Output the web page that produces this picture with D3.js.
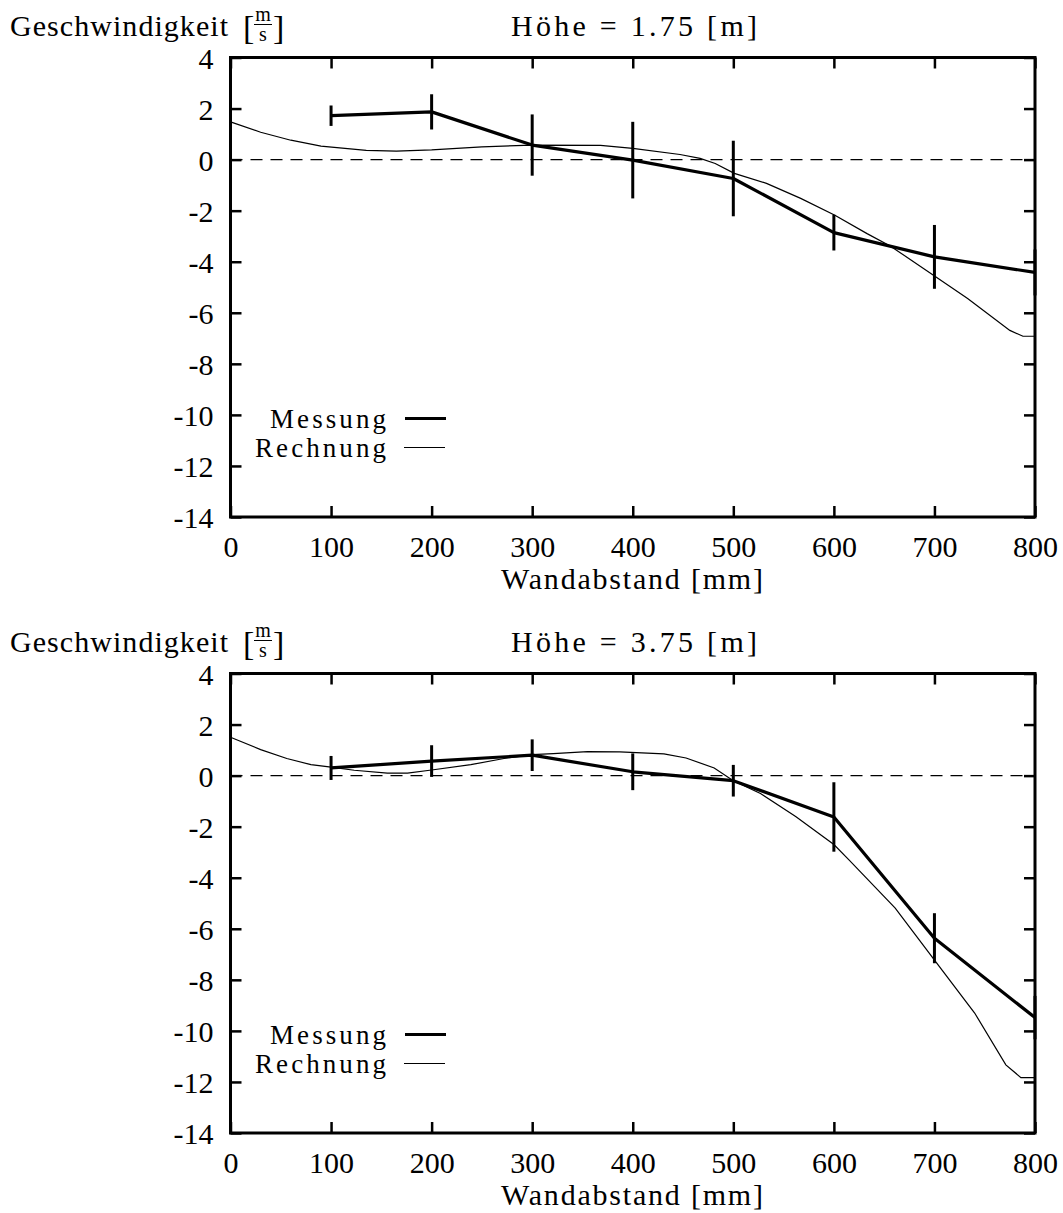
<!DOCTYPE html>
<html>
<head>
<meta charset="utf-8">
<script src="https://cdn.jsdelivr.net/npm/d3@7"></script>
<style>
  body { margin: 0; background: #fff; }
  svg text { font-family: "Liberation Serif", "Times New Roman", "DejaVu Serif", "Noto Serif", serif; fill: #000; }
</style>
</head>
<body>
<svg id="chart" width="1063" height="1213"></svg>
<script>
// ---- data ----
const xTicks = [0, 100, 200, 300, 400, 500, 600, 700, 800];
const yTicks = [4, 2, 0, -2, -4, -6, -8, -10, -12, -14];
const titles = ["Höhe = 1.75 [m]", "Höhe = 3.75 [m]"];
const legendLabels = ["Messung", "Rechnung"];

const xMeas = [100, 200, 300, 400, 500, 600, 700, 800];
const meas175 = [1.72, 1.87, 0.57, -0.02, -0.74, -2.86, -3.81, -4.42];
const err175  = [0.40, 0.69, 1.20, 1.50, 1.48, 0.70, 1.25, 0.90];
const meas375 = [0.30, 0.57, 0.80, 0.15, -0.20, -1.62, -6.37, -9.48];
const err375  = [0.47, 0.62, 0.62, 0.72, 0.62, 1.36, 0.98, 0.85];

const xCalc175 = [0, 30, 60, 90, 135, 165, 200, 250, 300, 368, 400, 447, 467, 482, 501, 533, 567, 601, 633, 656, 699, 733, 775, 788, 800];
const calc175  = [1.48, 1.07, 0.76, 0.53, 0.36, 0.33, 0.38, 0.50, 0.57, 0.56, 0.44, 0.20, 0.05, -0.15, -0.54, -0.93, -1.52, -2.18, -2.90, -3.38, -4.53, -5.44, -6.69, -6.92, -6.92];
const xCalc375 = [0, 30, 56, 80, 100, 123, 156, 176, 200, 239, 272, 300, 321, 355, 387, 431, 453, 481, 500, 527, 562, 600, 615, 661, 701, 740, 771, 786, 800];
const calc375  = [1.50, 1.02, 0.67, 0.43, 0.33, 0.21, 0.10, 0.10, 0.22, 0.43, 0.67, 0.82, 0.86, 0.94, 0.93, 0.85, 0.69, 0.30, -0.20, -0.70, -1.60, -2.70, -3.30, -5.19, -7.28, -9.30, -11.33, -11.83, -11.83];

const panels = [
  { title: titles[0], meas: meas175, err: err175, xc: xCalc175, calc: calc175 },
  { title: titles[1], meas: meas375, err: err375, xc: xCalc375, calc: calc375 }
];

// ---- layout ----
const svg = d3.select("#chart");
const left = 230.5, right = 1035, plotH = 459.5;
const tops = [57.5, 673.5];
const fs = 30;
const FF = '"Liberation Serif", "Times New Roman", "DejaVu Serif", serif';

panels.forEach((p, i) => {
  const top = tops[i];
  const g = svg.append("g");
  const x = d3.scaleLinear().domain([0, 800]).range([left, right]);
  const y = d3.scaleLinear().domain([-14, 4]).range([top + plotH, top]);

  // zero dashed line
  g.append("line")
    .attr("x1", x(0)).attr("x2", x(800)).attr("y1", y(0)).attr("y2", y(0))
    .attr("stroke", "#000").attr("stroke-width", 1.3).attr("stroke-dasharray", "12,8");

  // axes (ticks inward, mirrored)
  const tl = 11;
  const axB = d3.axisBottom(x).tickValues(xTicks).tickSize(-tl).tickFormat(d => d);
  const axT = d3.axisTop(x).tickValues(xTicks).tickSize(-tl).tickFormat("");
  const axL = d3.axisLeft(y).tickValues(yTicks).tickSize(-tl).tickFormat(d => d);
  const axR = d3.axisRight(y).tickValues(yTicks).tickSize(-tl).tickFormat("");
  const styleAxis = sel => {
    sel.attr("font-family", FF).attr("font-size", fs);
    sel.select(".domain").remove();
    sel.selectAll(".tick line").attr("stroke", "#000").attr("stroke-width", 2.5);
    sel.selectAll("text").style("font-size", fs + "px").style("font-family", FF);
  };
  g.append("g").attr("transform", `translate(0,${y(-14)})`).call(axB).call(styleAxis)
    .selectAll("text").attr("dy", null).attr("y", 40);
  g.append("g").attr("transform", `translate(0,${y(4)})`).call(axT).call(styleAxis);
  g.append("g").attr("transform", `translate(${x(0)},0)`).call(axL).call(styleAxis)
    .selectAll("text").attr("x", -17).attr("dy", "0.35em");
  g.append("g").attr("transform", `translate(${x(800)},0)`).call(axR).call(styleAxis);

  // frame
  g.append("rect").attr("x", x(0)).attr("y", y(4)).attr("width", x(800) - x(0)).attr("height", y(-14) - y(4))
    .attr("fill", "none").attr("stroke", "#000").attr("stroke-width", 3);

  // Rechnung
  const line = d3.line().x(d => x(d[0])).y(d => y(d[1]));
  g.append("path").datum(p.xc.map((v, k) => [v, p.calc[k]]))
    .attr("d", line).attr("fill", "none").attr("stroke", "#000").attr("stroke-width", 1.2);

  // Messung
  const md = xMeas.map((v, k) => [v, p.meas[k], p.err[k]]);
  g.append("path").datum(md).attr("d", line).attr("fill", "none")
    .attr("stroke", "#000").attr("stroke-width", 3.2).attr("stroke-linejoin", "round");
  g.selectAll(".eb").data(md).enter().append("line")
    .attr("x1", d => x(d[0])).attr("x2", d => x(d[0]))
    .attr("y1", d => y(d[1] + d[2])).attr("y2", d => y(d[1] - d[2]))
    .attr("stroke", "#000").attr("stroke-width", 3);

  // legend
  const ly1 = top + 361, ly2 = top + 390;
  const lfs = 27;
  g.append("text").attr("x", 386).attr("y", ly1 + 9).attr("text-anchor", "end")
    .style("font-size", lfs + "px").attr("textLength", 116).attr("lengthAdjust", "spacing").text(legendLabels[0]);
  g.append("line").attr("x1", 405).attr("x2", 446).attr("y1", ly1).attr("y2", ly1)
    .attr("stroke", "#000").attr("stroke-width", 3);
  g.append("text").attr("x", 386).attr("y", ly2 + 9).attr("text-anchor", "end")
    .style("font-size", lfs + "px").attr("textLength", 131).attr("lengthAdjust", "spacing").text(legendLabels[1]);
  g.append("line").attr("x1", 404).attr("x2", 445).attr("y1", ly2).attr("y2", ly2)
    .attr("stroke", "#000").attr("stroke-width", 1.2);

  // x label
  g.append("text").attr("x", 632).attr("y", top + 531).attr("text-anchor", "middle")
    .style("font-size", fs + "px").attr("textLength", 262).attr("lengthAdjust", "spacing").text("Wandabstand [mm]");

  // title
  g.append("text").attr("x", 634).attr("y", top - 22).attr("text-anchor", "middle")
    .style("font-size", fs + "px").attr("textLength", 246).attr("lengthAdjust", "spacing").text(p.title);

  // y label with fraction
  const yb = top - 22;
  g.append("text").attr("x", 10).attr("y", yb).style("font-size", fs + "px")
    .attr("textLength", 218).attr("lengthAdjust", "spacing").text("Geschwindigkeit");
  g.append("text").attr("x", 243).attr("y", yb + 3).style("font-size", "34px").text("[");
  g.append("text").attr("x", 273).attr("y", yb + 3).style("font-size", "34px").text("]");
  g.append("text").attr("x", 263).attr("y", yb - 15).attr("text-anchor", "middle").style("font-size", "20px").text("m");
  g.append("line").attr("x1", 254).attr("x2", 272).attr("y1", yb - 11).attr("y2", yb - 11)
    .attr("stroke", "#000").attr("stroke-width", 1);
  g.append("text").attr("x", 263).attr("y", yb + 5).attr("text-anchor", "middle").style("font-size", "20px").text("s");
});
</script>
</body>
</html>
